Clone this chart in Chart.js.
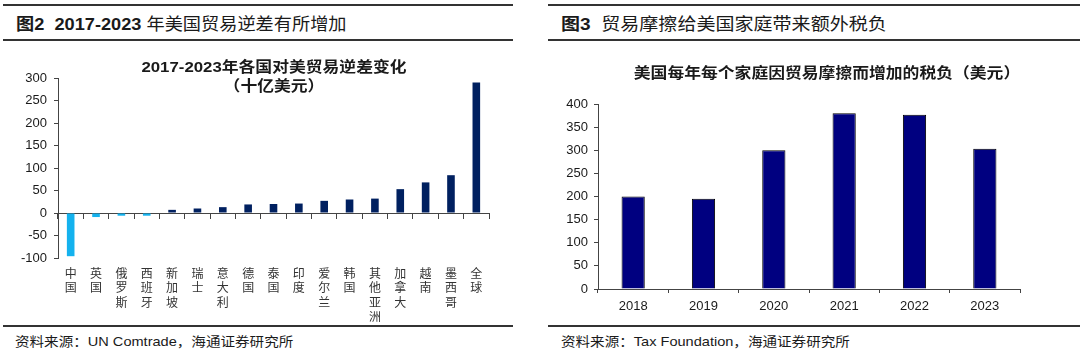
<!DOCTYPE html>
<html>
<head>
<meta charset="utf-8">
<script src="https://cdn.jsdelivr.net/npm/chart.js@4/dist/chart.umd.min.js"></script>
<style>
  html, body { margin: 0; padding: 0; background: #fff; }
  body { width: 1080px; height: 353px; position: relative; overflow: hidden;
         font-family: "Liberation Sans", "Noto Sans CJK SC", sans-serif; color: #1a1a1a; }
  .rule { position: absolute; height: 2px; background: #333; }
  .txt { position: absolute; white-space: nowrap; }
  .head { font-size: 17px; line-height: 20px; top: 15px; transform: scaleX(1.12); transform-origin: left center; }
  .title { font-size: 15px; line-height: 19px; font-weight: bold; text-align: center; transform: scaleX(1.12); transform-origin: center center; }
  .foot { font-size: 13px; line-height: 16px; top: 334px; transform: scaleX(1.12); transform-origin: left center; }
  .box { position: absolute; top: 45px; height: 280px; }
</style>
</head>
<body>
<div class="rule" style="left:3px;width:510px;top:4px"></div>
<div class="rule" style="left:3px;width:510px;top:39px"></div>
<div class="rule" style="left:3px;width:510px;top:325px"></div>
<div class="rule" style="left:548px;width:532px;top:4px"></div>
<div class="rule" style="left:548px;width:532px;top:39px"></div>
<div class="rule" style="left:548px;width:532px;top:325px"></div>

<div class="txt head" style="left:16px;transform:scaleX(1.07)"><b>图2&nbsp;&nbsp;2017-2023</b> 年美国贸易逆差有所增加</div>
<div class="txt head" style="left:561px"><b>图3</b>&nbsp;&nbsp;贸易摩擦给美国家庭带来额外税负</div>

<div class="box" style="left:0;width:520px"><canvas id="deficitChart"></canvas></div>
<div class="box" style="left:540px;width:540px"><canvas id="taxChart"></canvas></div>

<div class="txt title" style="left:74px;width:400px;top:57px">2017-2023年各国对美贸易逆差变化<br>（十亿美元）</div>
<div class="txt title" style="left:627px;width:400px;top:63px">美国每年每个家庭因贸易摩擦而增加的税负（美元）</div>

<div class="txt foot" style="left:15px">资料来源：UN Comtrade，海通证券研究所</div>
<div class="txt foot" style="left:561px">资料来源：Tax Foundation，海通证券研究所</div>

<script>
const countries = ['中国', '英国', '俄罗斯', '西班牙', '新加坡', '瑞士', '意大利', '德国', '泰国',
  '印度', '爱尔兰', '韩国', '其他亚洲', '加拿大', '越南', '墨西哥', '全球'];
const deficitChange = [-96, -9, -6, -6, 7, 10, 13, 19, 20, 21, 27, 30, 32, 53, 68, 84, 290];

const years = ['2018', '2019', '2020', '2021', '2022', '2023'];
const taxPerHousehold = [200, 195, 300, 380, 377, 303];

const axisColor = '#444';
const tickFont = { family: 'Liberation Sans', size: 13 };

Chart.defaults.animation = false;
Chart.defaults.color = '#1a1a1a';

const renderDeficit = () => {
  const ctx = document.getElementById('deficitChart').getContext('2d');
  new Chart(ctx, {
    type: 'bar',
    data: {
      labels: countries.map(c => c.split('')),
      datasets: [{
        data: deficitChange,
        xAxisID: 'x',
        backgroundColor: deficitChange.map(v => v < 0 ? '#14B2EE' : '#002060'),
        categoryPercentage: 1,
        barPercentage: 0.3
      }]
    },
    options: {
      responsive: true,
      maintainAspectRatio: false,
      layout: { padding: { top: 33, right: 31, left: 0, bottom: 0 } },
      plugins: { legend: { display: false }, tooltip: { enabled: false } },
      scales: {
        y: {
          min: -100, max: 300,
          ticks: { stepSize: 50, font: tickFont, padding: 7 },
          grid: { drawOnChartArea: false, drawTicks: true, tickLength: 4, color: axisColor },
          border: { color: axisColor },
          afterFit: s => { s.width = 58; }
        },
        x: {
          type: 'category',
          position: { y: 0 },
          offset: true,
          ticks: { display: false },
          grid: { offset: true, drawOnChartArea: false, drawTicks: true, tickLength: 5, color: axisColor },
          border: { color: axisColor }
        },
        x2: {
          type: 'category',
          axis: 'x',
          position: 'bottom',
          offset: true,
          grid: { display: false, drawTicks: false },
          border: { display: false },
          ticks: {
            autoSkip: false, maxRotation: 0, padding: 8, color: '#333',
            font: { family: 'Noto Sans CJK SC', size: 12, lineHeight: 1.2 }
          },
          afterFit: s => { s.height = 67; }
        }
      }
    }
  });
};

const renderTax = () => {
  const ctx = document.getElementById('taxChart').getContext('2d');
  new Chart(ctx, {
    type: 'bar',
    data: {
      labels: years,
      datasets: [{
        data: taxPerHousehold,
        backgroundColor: '#000080',
        borderColor: '#000',
        borderWidth: 1,
        categoryPercentage: 1,
        barPercentage: 0.33
      }]
    },
    options: {
      responsive: true,
      maintainAspectRatio: false,
      layout: { padding: { top: 59, right: 60, left: 0, bottom: 0 } },
      plugins: { legend: { display: false }, tooltip: { enabled: false } },
      scales: {
        y: {
          min: 0, max: 400,
          ticks: { stepSize: 50, font: tickFont, padding: 6 },
          grid: { drawOnChartArea: false, drawTicks: true, tickLength: 4, color: axisColor },
          border: { color: axisColor },
          afterFit: s => { s.width = 58; }
        },
        x: {
          offset: true,
          ticks: { font: tickFont, padding: 6, maxRotation: 0 },
          grid: { offset: true, drawOnChartArea: false, drawTicks: true, tickLength: 4, color: axisColor },
          border: { color: axisColor },
          afterFit: s => { s.height = 36; }
        }
      }
    }
  });
};

renderDeficit();
renderTax();
</script>
</body>
</html>
